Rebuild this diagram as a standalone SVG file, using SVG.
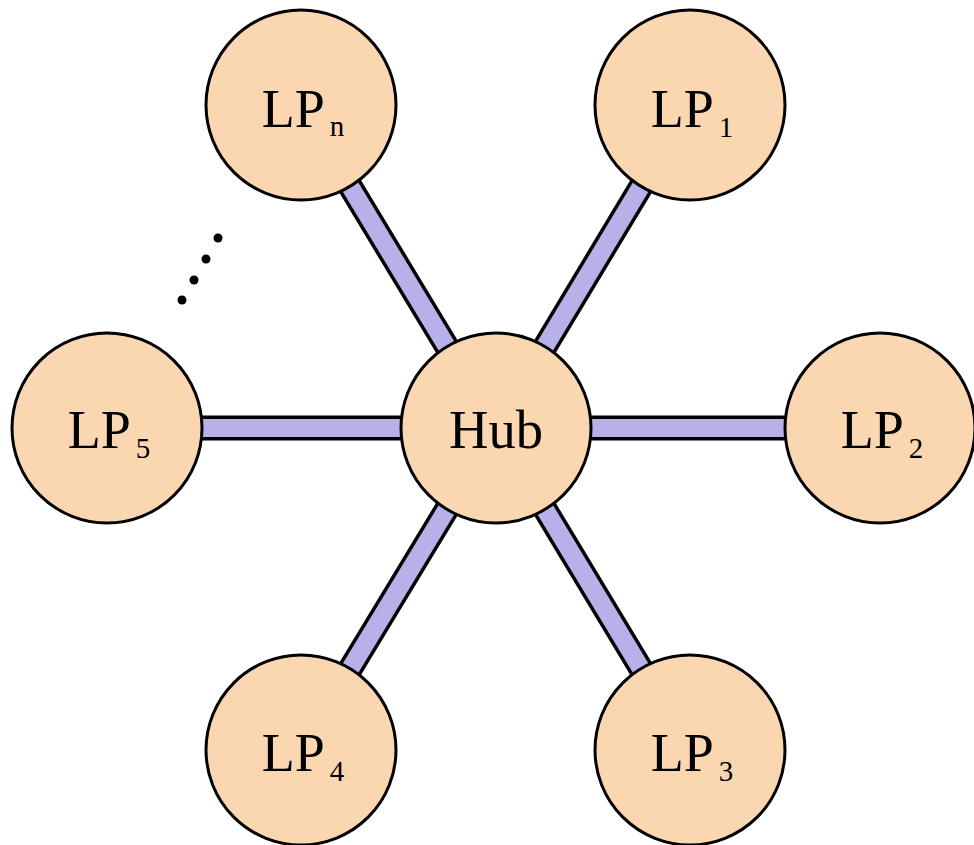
<svg xmlns="http://www.w3.org/2000/svg" width="974" height="845" viewBox="0 0 974 845">
<style>
.edge-o{stroke:#000;stroke-width:25;fill:none}
.edge-i{stroke:#b7b0e9;stroke-width:18;fill:none}
.node{fill:#fad7b1;stroke:#000;stroke-width:3}
.lbl{font-family:"Liberation Serif","DejaVu Serif",serif;font-size:54px;fill:#000;text-anchor:middle}
.sub{font-size:29px}
</style>
<rect width="974" height="845" fill="#fff"/>
<g id="connectors">
<g class="edge-o">
<line x1="496" y1="428" x2="301" y2="105"/>
<line x1="496" y1="428" x2="690" y2="105"/>
<line x1="496" y1="428" x2="107" y2="428"/>
<line x1="496" y1="428" x2="880" y2="428"/>
<line x1="496" y1="428" x2="301" y2="750"/>
<line x1="496" y1="428" x2="690" y2="750"/>
</g>
<g class="edge-i">
<line x1="496" y1="428" x2="301" y2="105"/>
<line x1="496" y1="428" x2="690" y2="105"/>
<line x1="496" y1="428" x2="107" y2="428"/>
<line x1="496" y1="428" x2="880" y2="428"/>
<line x1="496" y1="428" x2="301" y2="750"/>
<line x1="496" y1="428" x2="690" y2="750"/>
</g>
</g>
<g id="dots" fill="#000">
<circle cx="218" cy="238" r="4.5"/>
<circle cx="206" cy="259" r="4.5"/>
<circle cx="194" cy="280" r="4.5"/>
<circle cx="182" cy="300" r="4.5"/>
</g>
<g id="hub">
<circle class="node" cx="496" cy="428" r="95"/>
<text class="lbl" x="496" y="448" textLength="94" lengthAdjust="spacingAndGlyphs">Hub</text>
</g>
<g id="lpn">
<circle class="node" cx="301" cy="105" r="95"/>
<text class="lbl" x="303" y="127">LP<tspan class="sub" dx="5" dy="9">n</tspan></text>
</g>
<g id="lp1">
<circle class="node" cx="690" cy="105" r="95"/>
<text class="lbl" x="692" y="127">LP<tspan class="sub" dx="5" dy="10">1</tspan></text>
</g>
<g id="lp5">
<circle class="node" cx="107" cy="428" r="95"/>
<text class="lbl" x="109" y="448">LP<tspan class="sub" dx="5" dy="10">5</tspan></text>
</g>
<g id="lp2">
<circle class="node" cx="880" cy="428" r="95"/>
<text class="lbl" x="882" y="448">LP<tspan class="sub" dx="5" dy="10">2</tspan></text>
</g>
<g id="lp4">
<circle class="node" cx="301" cy="750" r="95"/>
<text class="lbl" x="303" y="771">LP<tspan class="sub" dx="5" dy="10">4</tspan></text>
</g>
<g id="lp3">
<circle class="node" cx="690" cy="750" r="95"/>
<text class="lbl" x="692" y="771">LP<tspan class="sub" dx="5" dy="10">3</tspan></text>
</g>
</svg>
